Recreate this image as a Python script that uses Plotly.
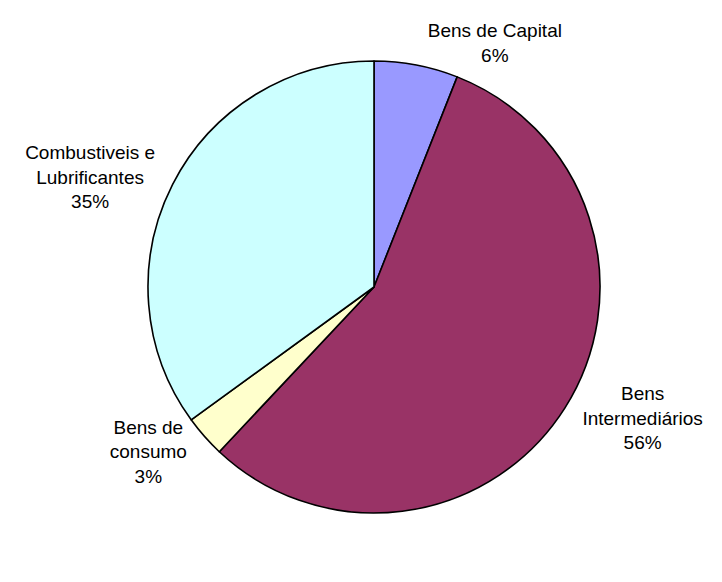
import plotly.graph_objects as go

# Import composition by category of use (%)
categories = [
    "Bens de Capital",
    "Bens<br>Intermediários",
    "Bens de<br>consumo",
    "Combustiveis e<br>Lubrificantes",
]
shares = [6, 56, 3, 35]
slice_colors = ["#9999FF", "#993366", "#FFFFCC", "#CCFFFF"]

fig = go.Figure(
    go.Pie(
        labels=categories,
        values=shares,
        sort=False,
        direction="clockwise",
        rotation=0,
        marker=dict(colors=slice_colors, line=dict(color="#000000", width=1.6)),
        textposition="outside",
        texttemplate="%{label}<br>%{percent:.0%}",
        outsidetextfont=dict(family="Liberation Sans, Arial, sans-serif", size=19, color="#000000"),
        hoverinfo="label+percent",
        domain=dict(x=[148 / 722, 600 / 722], y=[1 - 513 / 582, 1 - 61 / 582]),
        showlegend=False,
    )
)

fig.update_layout(
    width=722,
    height=582,
    margin=dict(l=0, r=0, t=0, b=0),
    paper_bgcolor="#FFFFFF",
    plot_bgcolor="#FFFFFF",
)

fig.write_html("out.html")
